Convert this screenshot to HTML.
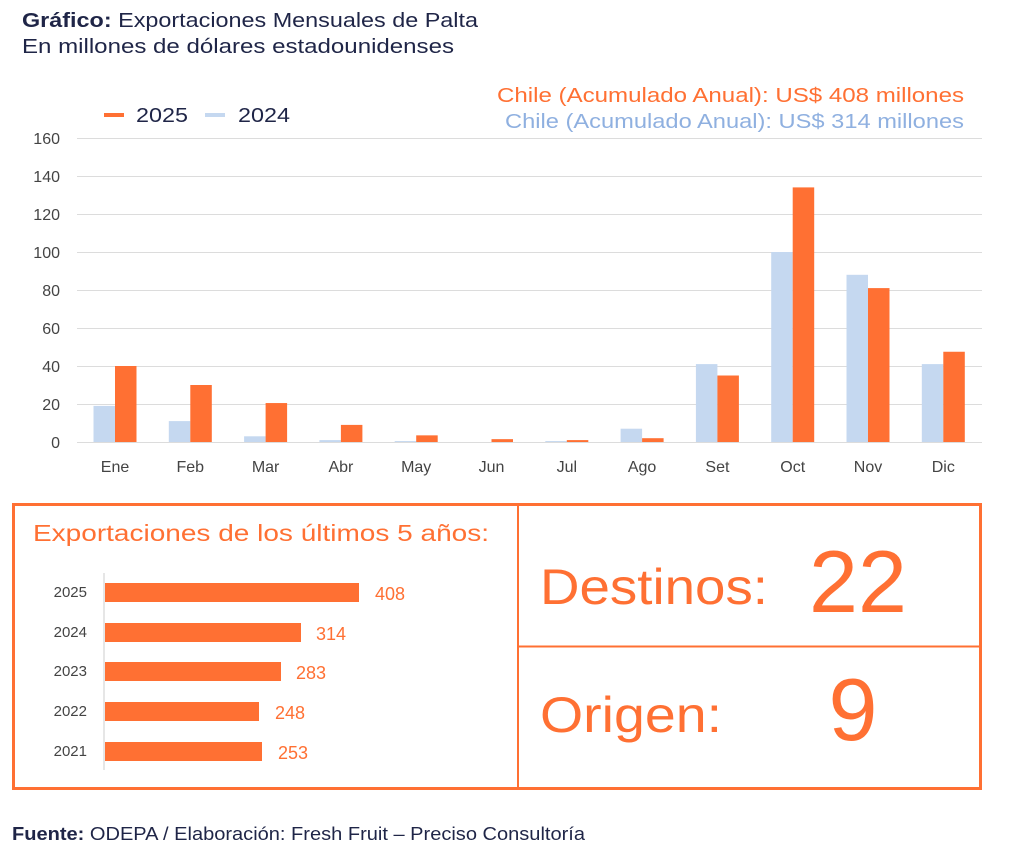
<!DOCTYPE html>
<html><head><meta charset="utf-8"><style>
body{margin:0;background:#fff;width:1024px;height:859px;overflow:hidden;font-family:"Liberation Sans",sans-serif}
</style></head><body>
<svg width="1024" height="859" xmlns="http://www.w3.org/2000/svg" font-family="Liberation Sans, sans-serif">
<text x="22" y="27" font-size="20" fill="#1f2547" textLength="456" lengthAdjust="spacingAndGlyphs"><tspan font-weight="bold">Gráfico:</tspan> Exportaciones Mensuales de Palta</text>
<text x="22" y="53" font-size="20" fill="#1f2547" textLength="432" lengthAdjust="spacingAndGlyphs">En millones de dólares estadounidenses</text>
<rect x="104" y="113" width="20" height="4" fill="#ff7033"/>
<text x="136" y="122" font-size="20" fill="#1f2547" textLength="52" lengthAdjust="spacingAndGlyphs">2025</text>
<rect x="205" y="113" width="20" height="4" fill="#c5d8f0"/>
<text x="238" y="122" font-size="20" fill="#1f2547" textLength="52" lengthAdjust="spacingAndGlyphs">2024</text>
<text x="497" y="102" font-size="20" fill="#ff7033" textLength="467" lengthAdjust="spacingAndGlyphs">Chile (Acumulado Anual): US$ 408 millones</text>
<text x="505" y="128" font-size="20" fill="#8fb0e0" textLength="459" lengthAdjust="spacingAndGlyphs">Chile (Acumulado Anual): US$ 314 millones</text>
<g stroke="#dcdcdc" stroke-width="1">
<line x1="77" x2="982" y1="138.5" y2="138.5"/><line x1="77" x2="982" y1="176.5" y2="176.5"/><line x1="77" x2="982" y1="214.5" y2="214.5"/><line x1="77" x2="982" y1="252.5" y2="252.5"/><line x1="77" x2="982" y1="290.5" y2="290.5"/><line x1="77" x2="982" y1="328.5" y2="328.5"/><line x1="77" x2="982" y1="366.5" y2="366.5"/><line x1="77" x2="982" y1="404.5" y2="404.5"/><line x1="77" x2="982" y1="442.5" y2="442.5"/>
</g>
<g font-size="16" fill="#444" text-anchor="end">
<text x="60" y="144">160</text><text x="60" y="182">140</text><text x="60" y="220">120</text><text x="60" y="258">100</text><text x="60" y="296">80</text><text x="60" y="334">60</text><text x="60" y="372">40</text><text x="60" y="410">20</text><text x="60" y="448">0</text>
</g>
<g id="bars"></g>
<g font-size="16" fill="#444" text-anchor="middle" id="months"></g>
<rect x="13.5" y="504.5" width="967" height="284" fill="none" stroke="#ff7033" stroke-width="3"/>
<line x1="518" y1="504" x2="518" y2="788" stroke="#ff7033" stroke-width="2"/>
<line x1="518" y1="646.5" x2="980" y2="646.5" stroke="#ff7033" stroke-width="2"/>
<text x="33" y="541" font-size="23" fill="#ff7033" textLength="456" lengthAdjust="spacingAndGlyphs">Exportaciones de los últimos 5 años:</text>
<line x1="104" y1="573" x2="104" y2="770" stroke="#ddd" stroke-width="1.5"/>
<g fill="#ff7033">
<rect x="105" y="583" width="254" height="19"/><rect x="105" y="623" width="196" height="19"/><rect x="105" y="662" width="176" height="19"/><rect x="105" y="702" width="154" height="19"/><rect x="105" y="742" width="157" height="19"/>
</g>
<g font-size="15" fill="#444" text-anchor="end">
<text x="87" y="597">2025</text><text x="87" y="637">2024</text><text x="87" y="676">2023</text><text x="87" y="716">2022</text><text x="87" y="756">2021</text>
</g>
<g font-size="18" fill="#ff7033">
<text x="375" y="600">408</text><text x="316" y="640">314</text><text x="296" y="679">283</text><text x="275" y="719">248</text><text x="278" y="759">253</text>
</g>
<text x="540" y="604" font-size="50" fill="#ff7033" textLength="228" lengthAdjust="spacingAndGlyphs">Destinos:</text>
<text x="858" y="612" font-size="88" fill="#ff7033" text-anchor="middle">22</text>
<text x="540" y="732" font-size="50" fill="#ff7033" textLength="182" lengthAdjust="spacingAndGlyphs">Origen:</text>
<text x="853" y="740" font-size="88" fill="#ff7033" text-anchor="middle">9</text>
<text x="12" y="840" font-size="18" fill="#1f2547" textLength="573" lengthAdjust="spacingAndGlyphs"><tspan font-weight="bold">Fuente:</tspan> ODEPA / Elaboración: Fresh Fruit – Preciso Consultoría</text>
</svg>
<script>
var d24=[19,11,3,1,0.5,0,0.5,7,41,100,88,41],d25=[40,30,20.5,9,3.5,1.5,1,2,35,134,81,47.5];
var m=["Ene","Feb","Mar","Abr","May","Jun","Jul","Ago","Set","Oct","Nov","Dic"];
var ns="http://www.w3.org/2000/svg",b=document.getElementById("bars"),t=document.getElementById("months");
for(var i=0;i<12;i++){var c=115+i*75.3;
[[d24[i],c-21.5,"#c5d8f0"],[d25[i],c,"#ff7033"]].forEach(function(a){var h=a[0]*1.9;var r=document.createElementNS(ns,"rect");r.setAttribute("x",a[1]);r.setAttribute("y",442-h);r.setAttribute("width",21.5);r.setAttribute("height",h);r.setAttribute("fill",a[2]);b.appendChild(r);});
var tx=document.createElementNS(ns,"text");tx.setAttribute("x",c);tx.setAttribute("y",472);tx.textContent=m[i];t.appendChild(tx);}
</script>
</body></html>
